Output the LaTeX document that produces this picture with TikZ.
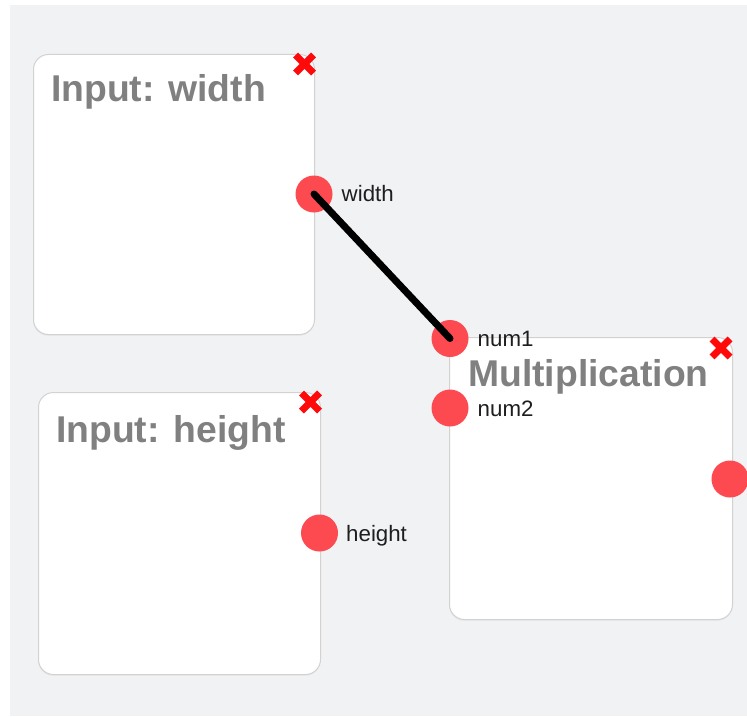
\documentclass[tikz,border=0pt]{standalone}
\usepackage{fontspec}
\setmainfont{Liberation Sans}
\definecolor{canvas}{HTML}{F1F2F4}
\definecolor{portred}{HTML}{FD4A51}
\definecolor{closered}{HTML}{FF0A0A}
\definecolor{titlegray}{HTML}{808080}
\definecolor{boxline}{HTML}{D2D2D2}
\definecolor{labelink}{HTML}{1E1E1E}
\tikzset{
  nodebox/.style={draw=boxline, line width=1pt, fill=white, rounded corners=15pt,
    anchor=north west, inner sep=0pt},
  boxshadow/.style={fill=black!10, rounded corners=15pt, anchor=north west, inner sep=0pt},
  boxtitle/.style={anchor=base west, inner sep=0pt, text=titlegray,
    font=\bfseries\fontsize{37.3}{41}\selectfont},
  port/.style={circle, fill=portred, minimum size=37pt, inner sep=0pt},
  portlabel/.style={anchor=base west, inner sep=0pt, text=labelink,
    font=\fontsize{22.3}{25}\selectfont},
  closemark/.style={closered, line width=7pt, line cap=butt},
  wire/.style={black, line width=7pt, line cap=round}
}
\newcommand{\closebutton}[2]{%
  \draw[closemark] ([shift={(-9,-9)}]#1,#2) -- ([shift={(9,9)}]#1,#2);
  \draw[closemark] ([shift={(-9,9)}]#1,#2) -- ([shift={(9,-9)}]#1,#2);}
\begin{document}
\begin{tikzpicture}[x=1pt,y=-1pt]
  \useasboundingbox (0,0) rectangle (747,717);
  % canvas
  \fill[canvas] (10,5) rectangle (747,716);

  % soft shadows under the cards
  \node[boxshadow, minimum width=281pt, minimum height=280pt] at (33,55.5) {};
  \node[boxshadow, minimum width=282pt, minimum height=282pt] at (38,393.5) {};
  \node[boxshadow, minimum width=283pt, minimum height=282pt] at (449,338.5) {};

  % cards
  \node[nodebox, minimum width=281pt, minimum height=280pt] (bw) at (33,54) {};
  \node[nodebox, minimum width=282pt, minimum height=282pt] (bh) at (38,392) {};
  \node[nodebox, minimum width=283pt, minimum height=282pt] (bm) at (449,337) {};

  % titles
  \node[boxtitle] (tw) at (51,102) {Input: width};
  \node[boxtitle] (th) at (56,442) {Input: height};
  \node[boxtitle] (tm) at (468,386) {Multiplication};

  % close buttons
  \closebutton{304.5}{64}
  \closebutton{310.5}{402}
  \closebutton{721}{348}

  % ports
  \node[port] (pw) at (314,194) {};
  \node[port] (ph) at (319.5,533) {};
  \node[port] (pn1) at (450,338.5) {};
  \node[port] (pn2) at (450,408) {};
  \node[port] (pout) at (730,479) {};

  % port labels
  \node[portlabel] (lw) at (341.5,201.5) {width};
  \node[portlabel] (lh) at (346,541) {height};
  \node[portlabel] (ln1) at (477.5,346) {num1};
  \node[portlabel] (ln2) at (477.5,416.5) {num2};

  % connection
  \draw[wire] (pw.center) -- (pn1.center);
\end{tikzpicture}
\end{document}
